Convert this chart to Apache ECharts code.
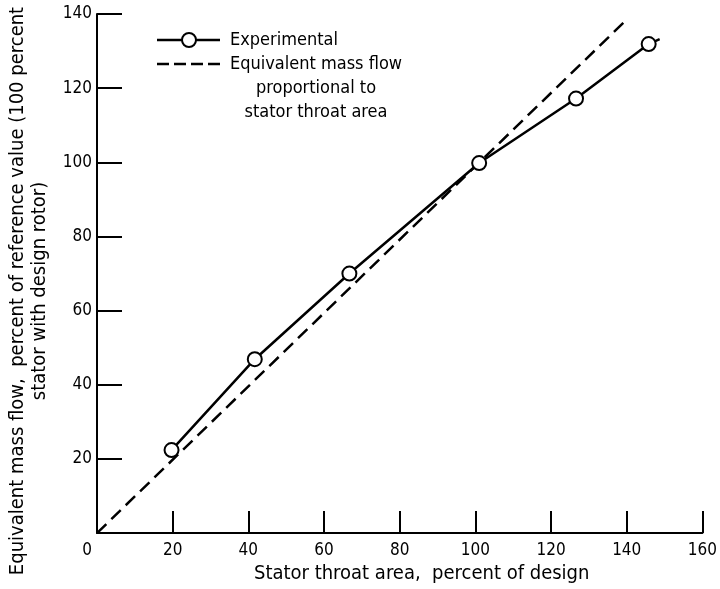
<!DOCTYPE html>
<html>
<head>
<meta charset="utf-8">
<script src="https://cdn.jsdelivr.net/npm/echarts@6/dist/echarts.min.js"></script>
<style>html,body{margin:0;padding:0;background:#fff;}#c{width:720px;height:589px;}</style>
</head>
<body>
<div id="c"></div>
<script>
// Data
const expX = [19.7, 41.7, 66.7, 101.0, 126.6, 145.8];
const expY = [22.4, 46.9, 70.0, 99.8, 117.2, 131.9];
const expTail = [148.7, 133.2];
const propX = [0, 140];
const propY = [0, 138.5];
const xTicks = [0, 20, 40, 60, 80, 100, 120, 140, 160];
const yTicks = [20, 40, 60, 80, 100, 120, 140];
const xTitle = 'Stator throat area,  percent of design';
const yTitle = 'Equivalent mass flow,  percent of reference value (100 percent\nstator with design rotor)';
const legendExp = 'Experimental';
const legendProp = 'Equivalent mass flow\nproportional to\nstator throat area';

const FONT = '"DejaVu Sans Condensed", "Liberation Sans Narrow", sans-serif';
const chart = echarts.init(document.getElementById('c'), null, {renderer: 'canvas'});

const expData = expX.map((x, i) => [x, expY[i]]);
expData.push({value: expTail, symbol: 'none'});
const propData = propX.map((x, i) => [x, propY[i]]);

chart.setOption({
  animation: false,
  backgroundColor: '#fff',
  grid: {left: 97, right: 14.5, top: 14, bottom: 53, containLabel: false},
  xAxis: {
    type: 'value', min: 0, max: 160, interval: 20,
    axisLine: {lineStyle: {color: '#000', width: 2}},
    axisTick: {inside: true, length: 22, lineStyle: {color: '#000', width: 2}},
    splitLine: {show: false},
    axisLabel: {
      color: '#000', fontFamily: FONT, fontSize: 17, margin: 9,
      formatter: v => xTicks.indexOf(v) < 0 ? '' : (v === 0 ? '{z|0}' : String(v)),
      rich: {z: {fontFamily: FONT, fontSize: 17, color: '#000', padding: [0, 20, 0, 0]}}
    },
    name: xTitle, nameLocation: 'middle', nameGap: 30,
    nameTextStyle: {color: '#000', fontFamily: FONT, fontSize: 20, padding: [0, 0, 0, 44]}
  },
  yAxis: {
    type: 'value', min: 0, max: 140, interval: 20,
    axisLine: {lineStyle: {color: '#000', width: 2}},
    axisTick: {inside: true, length: 25, lineStyle: {color: '#000', width: 2}},
    splitLine: {show: false},
    axisLabel: {
      color: '#000', fontFamily: FONT, fontSize: 17, margin: 5,
      formatter: v => yTicks.indexOf(v) < 0 ? '' : String(v)
    }
  },
  graphic: [
    {type: 'text', x: 29, y: 291, rotation: Math.PI / 2,
     style: {text: yTitle, fill: '#000', font: '20px ' + FONT, textAlign: 'center', textVerticalAlign: 'middle', lineHeight: 22}},
    {type: 'line', shape: {x1: 157, y1: 40, x2: 220, y2: 40}, style: {stroke: '#000', lineWidth: 2.5}},
    {type: 'circle', shape: {cx: 189, cy: 40, r: 7}, style: {fill: '#fff', stroke: '#000', lineWidth: 2}},
    {type: 'text', x: 230, y: 40, style: {text: legendExp, fill: '#000', font: '18px ' + FONT, textAlign: 'left', textVerticalAlign: 'middle'}},
    {type: 'line', shape: {x1: 157, y1: 64, x2: 220, y2: 64}, style: {stroke: '#000', lineWidth: 2.5, lineDash: [12, 5]}},
    {type: 'text', x: 316, y: 64 - 12, style: {text: legendProp, fill: '#000', font: '18px ' + FONT, textAlign: 'center', textVerticalAlign: 'top', lineHeight: 24}}
  ],
  series: [
    {type: 'line', data: propData, symbol: 'none', z: 2,
     lineStyle: {color: '#000', width: 2.5, type: [13, 7]}},
    {type: 'line', data: expData, symbol: 'circle', symbolSize: 14, z: 3,
     itemStyle: {color: '#fff', borderColor: '#000', borderWidth: 2},
     lineStyle: {color: '#000', width: 2.5}}
  ]
});
</script>
</body>
</html>
